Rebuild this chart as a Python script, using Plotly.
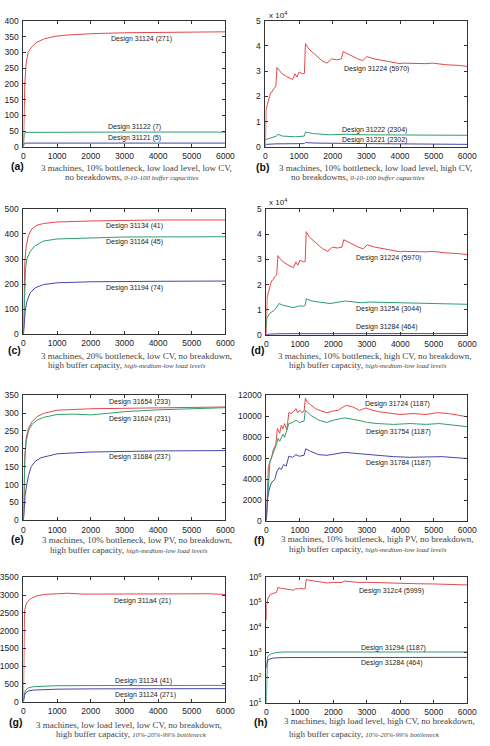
import plotly.graph_objects as go

W, H = 490, 746
RED, GREEN, BLUE = "#e5484b", "#2f9f6c", "#4646aa"

# ---------------- data ----------------
# (a)
A_RED_X = [0, 15, 40, 80, 140, 250, 400, 600, 900, 1200, 2000, 3000, 4000, 5000, 6000]
A_RED_Y = [0, 130, 200, 265, 300, 318, 332, 342, 350, 354, 359, 362, 363, 364, 365]
A_GRN_X = [0, 20, 60, 1000, 3000, 6000]
A_GRN_Y = [5, 40, 46, 47, 47, 47]
A_BLU_X = [0, 20, 60, 1000, 3000, 6000]
A_BLU_Y = [2, 10, 12, 12, 12, 12]

# (b) and (d) shared red design 31224
B_RED_X = [0, 20, 58, 87, 116, 155, 203, 251, 309, 345, 400, 500, 620, 720, 810, 880, 940, 1005, 1100, 1160,
           1190, 1290, 1400, 1490, 1600, 1680, 1830, 1900, 1970, 2115, 2260, 2310, 2450, 2600, 2745, 2890, 3015,
           3230, 3520, 3810, 4000, 4100, 4480, 4770, 4970, 5350, 5740, 6000]
B_RED_Y = [0, 14700, 16700, 18000, 20000, 21500, 21900, 23200, 23800, 31500, 30500, 29000, 28000, 27200, 26700,
           29000, 27700, 29700, 29000, 29200, 41000, 38800, 37500, 36200, 35000, 34200, 33200, 34200, 34900, 34500,
           34900, 37800, 36800, 35800, 34900, 34200, 35800, 34900, 34200, 33600, 33000, 33200, 33000, 33000, 33200,
           32600, 32300, 31900]
B_GRN_X = [0, 20, 100, 330, 375, 500, 900, 1160, 1190, 1400, 1900, 2400, 2900, 4000, 5000, 6000]
B_GRN_Y = [2600, 3000, 3300, 4300, 5000, 4300, 4000, 4300, 5900, 5300, 4800, 5000, 4800, 4700, 4700, 4600]
B_BLU_X = [0, 30, 300, 1160, 1190, 1500, 3000, 5000, 6000]
B_BLU_Y = [500, 1000, 1200, 1300, 1700, 1500, 1300, 1200, 1000]

# (c)
C_RED_X = [0, 15, 40, 80, 150, 250, 400, 600, 1000, 2000, 3000, 4000, 6000]
C_RED_Y = [0, 180, 290, 350, 395, 420, 435, 442, 448, 452, 455, 456, 456]
C_GRN_X = [0, 30, 60, 100, 200, 330, 600, 1000, 2000, 3000, 6000]
C_GRN_Y = [0, 200, 260, 300, 330, 352, 372, 380, 385, 388, 389]
C_BLU_X = [0, 20, 50, 100, 200, 350, 600, 1000, 2000, 4000, 6000]
C_BLU_Y = [0, 50, 90, 130, 165, 185, 198, 205, 209, 211, 212]

# (d)
D_GRN_X = [0, 10, 100, 240, 330, 375, 500, 800, 1000, 1100, 1160, 1190, 1350, 1900, 2350, 2850, 3050, 4000, 5000, 6000]
D_GRN_Y = [3000, 6600, 8600, 9900, 11500, 12500, 11800, 10900, 11600, 11400, 11800, 14400, 13500, 12500, 13500,
           12800, 13100, 12800, 12500, 12200]
D_BLU_X = [0, 100, 500, 6000]
D_BLU_Y = [0, 400, 550, 600]

# (e)
E_RED_X = [0, 15, 40, 80, 150, 250, 400, 600, 1000, 2000, 3000, 4000, 5000, 6000]
E_RED_Y = [0, 100, 180, 230, 258, 275, 290, 299, 308, 312, 313, 315, 316, 317]
E_GRN_X = [0, 15, 40, 80, 150, 250, 400, 600, 1000, 1500, 2000, 2500, 3000, 4000, 5000, 6000]
E_GRN_Y = [0, 90, 170, 220, 250, 268, 280, 288, 296, 297, 295, 299, 304, 309, 312, 315]
E_BLU_X = [0, 20, 50, 90, 150, 230, 350, 520, 800, 1000, 2000, 3000, 4000, 6000]
E_BLU_Y = [0, 40, 70, 96, 125, 150, 165, 175, 182, 186, 191, 193, 194, 195]

# (f)
F_RED_X = [0, 29, 58, 107, 155, 204, 282, 330, 398, 447, 495, 544, 612, 670, 738, 806, 883, 932, 1000, 1058,
           1126, 1165, 1223, 1320, 1466, 1660, 1806, 1951, 2146, 2291, 2388, 2583, 2777, 2970, 3165, 3408, 3699,
           3990, 4379, 4767, 5107, 5447, 5738, 6000]
F_RED_Y = [90, 2900, 5100, 5700, 6000, 6800, 7300, 8840, 8375, 9150, 8780, 9300, 8690, 10340, 10250, 10400,
           10720, 10340, 10560, 10340, 10470, 11720, 11340, 11090, 10720, 10470, 10340, 10470, 10560, 10875, 11030,
           10875, 10560, 10780, 10560, 10400, 10250, 10160, 10250, 10160, 10340, 10250, 10090, 9940]
F_GRN_X = [0, 29, 107, 301, 349, 398, 495, 544, 592, 670, 786, 883, 980, 1126, 1165, 1320, 1563, 1806, 2000,
           2340, 2730, 3020, 3310, 3800, 4290, 4770, 5160, 5550, 6000]
F_GRN_Y = [90, 1970, 5700, 7300, 7900, 7600, 8280, 7980, 8480, 9300, 9400, 9620, 9400, 9530, 10560, 10090, 9620,
           9400, 9620, 9840, 9620, 9400, 9300, 9220, 9300, 9220, 9300, 9150, 9000]
F_BLU_X = [0, 29, 87, 155, 252, 320, 378, 447, 515, 592, 670, 786, 883, 980, 1126, 1175, 1320, 1563, 1806, 2048,
           2340, 2631, 3020, 3408, 3796, 4282, 4767, 5252, 5738, 6000]
F_BLU_Y = [90, 2125, 3060, 3690, 4000, 4780, 5090, 4940, 5400, 5250, 6190, 6090, 6340, 6190, 6280, 6900, 6650,
           6340, 6280, 6400, 6560, 6470, 6340, 6250, 6150, 6090, 6150, 6150, 6030, 5970]

# (g)
G_RED_X = [0, 8, 30, 80, 150, 250, 400, 600, 1000, 1300, 1800, 2500, 2800, 3500, 4000, 4500, 5000, 5500, 6000]
G_RED_Y = [0, 2300, 2550, 2750, 2850, 2920, 2980, 3020, 3045, 3055, 3030, 3035, 3025, 3030, 3030, 3050, 3045, 3040, 3020]
G_GRN_X = [0, 30, 80, 150, 300, 600, 1000, 2000, 4000, 6000]
G_GRN_Y = [0, 250, 340, 390, 420, 440, 448, 452, 456, 456]
G_BLU_X = [0, 30, 80, 150, 300, 600, 1000, 2000, 6000]
G_BLU_Y = [0, 180, 260, 300, 325, 342, 350, 359, 365]

# (h) log scale
H_RED_X = [0, 10, 50, 106, 200, 300, 345, 420, 550, 680, 810, 880, 940, 1000, 1100, 1160, 1190, 1300, 1500, 1700,
           1830, 1970, 2260, 2320, 2450, 2750, 3020, 3500, 4000, 4500, 5000, 5500, 6000]
H_RED_Y = [2e4, 9e4, 1.5e5, 2.0e5, 2.3e5, 2.5e5, 4.0e5, 3.7e5, 3.5e5, 3.3e5, 3.1e5, 3.6e5, 3.4e5, 3.7e5, 3.5e5,
           3.7e5, 8.3e5, 7.6e5, 6.8e5, 6.2e5, 6.0e5, 6.3e5, 6.3e5, 7.2e5, 6.8e5, 6.3e5, 6.4e5, 6.0e5, 5.8e5, 5.6e5,
           5.5e5, 5.3e5, 5.0e5]
H_GRN_X = [0, 10, 30, 60, 150, 300, 500, 1000, 6000]
H_GRN_Y = [10, 200, 600, 750, 900, 1000, 1050, 1050, 1050]
H_BLU_X = [0, 20, 60, 200, 500, 6000]
H_BLU_Y = [250, 420, 530, 600, 630, 640]

X_TICKS = [0, 1000, 2000, 3000, 4000, 5000, 6000]
F_TICKS = [0, 2000, 4000, 6000, 8000, 10000, 12000]

# ---------------- layout helpers ----------------
def dom_x(l, r):
    return [l / W, r / W]

def dom_y(t, b):
    return [1 - b / H, 1 - t / H]

fig = go.Figure()

panels = [
    ("", (22, 229), (15, 143)),
    ("2", (270, 477), (15, 143)),
    ("3", (22, 229), (206, 333)),
    ("4", (271, 477), (206, 334)),
    ("5", (22, 229), (395, 522)),
    ("6", (271, 477), (395, 523)),
    ("7", (22, 229), (580, 706)),
    ("8", (271, 477), (580, 707)),
]

series = [
    ("", [(A_RED_X, A_RED_Y, RED), (A_GRN_X, A_GRN_Y, GREEN), (A_BLU_X, A_BLU_Y, BLUE)]),
    ("2", [(B_RED_X, B_RED_Y, RED), (B_GRN_X, B_GRN_Y, GREEN), (B_BLU_X, B_BLU_Y, BLUE)]),
    ("3", [(C_RED_X, C_RED_Y, RED), (C_GRN_X, C_GRN_Y, GREEN), (C_BLU_X, C_BLU_Y, BLUE)]),
    ("4", [(B_RED_X, B_RED_Y, RED), (D_GRN_X, D_GRN_Y, GREEN), (D_BLU_X, D_BLU_Y, BLUE)]),
    ("5", [(E_RED_X, E_RED_Y, RED), (E_GRN_X, E_GRN_Y, GREEN), (E_BLU_X, E_BLU_Y, BLUE)]),
    ("6", [(F_RED_X, F_RED_Y, RED), (F_GRN_X, F_GRN_Y, GREEN), (F_BLU_X, F_BLU_Y, BLUE)]),
    ("7", [(G_RED_X, G_RED_Y, RED), (G_GRN_X, G_GRN_Y, GREEN), (G_BLU_X, G_BLU_Y, BLUE)]),
    ("8", [(H_RED_X, H_RED_Y, RED), (H_GRN_X, H_GRN_Y, GREEN), (H_BLU_X, H_BLU_Y, BLUE)]),
]

for key, lst in series:
    for xs, ys, c in lst:
        fig.add_trace(go.Scatter(x=xs, y=ys, mode="lines", line=dict(color=c, width=1),
                                 xaxis="x" + key, yaxis="y" + key, showlegend=False, hoverinfo="skip"))

TICKFONT = dict(family="Liberation Sans, Arial, sans-serif", size=8.5, color="#222")
axcommon = dict(showgrid=False, zeroline=False, showline=True, linecolor="#333", linewidth=1,
                mirror="ticks", ticks="inside", ticklen=3, tickwidth=1, tickcolor="#333",
                tickfont=TICKFONT, fixedrange=True)

yspec = {
    "": dict(range=[0, 400], tickvals=list(range(0, 401, 50))),
    "2": dict(range=[0, 50000], tickvals=[0, 10000, 20000, 30000, 40000, 50000],
              ticktext=["0", "1", "2", "3", "4", "5"]),
    "3": dict(range=[0, 500], tickvals=list(range(0, 501, 100))),
    "4": dict(range=[0, 50000], tickvals=[0, 10000, 20000, 30000, 40000, 50000],
              ticktext=["0", "1", "2", "3", "4", "5"]),
    "5": dict(range=[0, 350], tickvals=list(range(0, 351, 50))),
    "6": dict(range=[0, 12000], tickvals=F_TICKS, ticktext=[str(v) for v in F_TICKS]),
    "7": dict(range=[0, 3500], tickvals=list(range(0, 3501, 500))),
    "8": dict(type="log", range=[1, 6], tickvals=[10, 100, 1000, 1e4, 1e5, 1e6],
              ticktext=["10<sup>1</sup>", "10<sup>2</sup>", "10<sup>3</sup>", "10<sup>4</sup>",
                        "10<sup>5</sup>", "10<sup>6</sup>"]),
}

for key, (xl, xr), (yt, yb) in panels:
    xa = dict(axcommon, domain=dom_x(xl, xr), range=[0, 6000], tickvals=X_TICKS,
              ticktext=[str(v) for v in X_TICKS], anchor="y" + key, ticklabelstandoff=1)
    ya = dict(axcommon, domain=dom_y(yt, yb), anchor="x" + key, ticklabelstandoff=2, **yspec[key])
    fig.layout["xaxis" + key] = xa
    fig.layout["yaxis" + key] = ya

# ---------------- annotations ----------------
LBLFONT = dict(family="Liberation Sans, Arial, sans-serif", size=7, color="#222")
labels = [
    ("", 3500, 341, "Design 31124 (271)"),
    ("", 3300, 62, "Design 31122 (7)"),
    ("", 3300, 28, "Design 31121 (5)"),
    ("2", 3300, 30860, "Design 31224 (5970)"),
    ("2", 3250, 6640, "Design 31222 (2304)"),
    ("2", 3250, 2730, "Design 31221 (2302)"),
    ("3", 3300, 433, "Design 31134 (41)"),
    ("3", 3300, 366, "Design 31164 (45)"),
    ("3", 3300, 185, "Design 31194 (74)"),
    ("4", 3640, 30470, "Design 31224 (5970)"),
    ("4", 3640, 10160, "Design 31254 (3044)"),
    ("4", 3600, 3125, "Design 31284 (464)"),
    ("5", 3450, 331, "Design 31654 (233)"),
    ("5", 3450, 284, "Design 31624 (231)"),
    ("5", 3450, 176, "Design 31684 (237)"),
    ("6", 3930, 11156, "Design 31724 (1187)"),
    ("6", 3960, 8530, "Design 31754 (1187)"),
    ("6", 3960, 5530, "Design 31784 (1187)"),
    ("7", 3536, 2833, "Design 311a4 (21)"),
    ("7", 3560, 583, "Design 31134 (41)"),
    ("7", 3620, 194, "Design 31124 (271)"),
    ("8", 3730, 5.45, "Design 312c4 (5999)"),
    ("8", 3810, 3.20, "Design 31294 (1187)"),
    ("8", 3760, 2.57, "Design 31284 (464)"),
]
for key, x, y, t in labels:
    fig.add_annotation(x=x, y=y, xref="x" + key, yref="y" + key, text=t, showarrow=False,
                       font=LBLFONT, xanchor="center", yanchor="middle")

# x 10^4 multipliers
for py in (9, 199):
    fig.add_annotation(x=272 / W, y=1 - py / H, xref="paper", yref="paper", text="x 10<sup>4</sup>",
                       showarrow=False, font=dict(family="Liberation Sans, Arial, sans-serif", size=8, color="#222"),
                       xanchor="left", yanchor="middle")

CAPFONT = dict(family="Liberation Serif, Times New Roman, serif", size=9, color="#444")
PLABFONT = dict(family="Liberation Sans, Arial, sans-serif", size=10.5, color="#111")

def it(s):
    return "<i><span style='font-size:7px'>" + s + "</span></i>"

captions = [
    ("(a)", (16, 162), "3 machines, 10% bottleneck, low load level, low CV,", (138, 164),
     "no breakdowns, " + it("0-10-100 buffer capacities"), (133, 174)),
    ("(b)", (267, 163), "3 machines, 10% bottleneck, low load level, high CV,", (383, 164),
     "no breakdowns, " + it("0-10-100 buffer capacities"), (365, 174)),
    ("(c)", (13, 349), "3 machines, 20% bottleneck, low CV, no breakdown,", (138, 355),
     "high buffer capacity, " + it("high-medium-low load levels"), (128, 364)),
    ("(d)", (262, 349), "3 machines, 10% bottleneck, high CV, no breakdown,", (382, 355),
     "high buffer capacity, " + it("high-medium-low load levels"), (375, 364)),
    ("(e)", (16, 541), "3 machines, 10% bottleneck, low PV, no breakdown,", (138, 542),
     "high buffer capacity, " + it("high-medium-low load levels"), (130, 552)),
    ("(f)", (264, 542), "3 machines, 10% bottleneck, high PV, no breakdown,", (385, 541),
     "high buffer capacity, " + it("high-medium-low load levels"), (375, 551)),
    ("(g)", (14, 727), "3 machines, low load level, low CV, no breakdown,", (130, 730),
     "high buffer capacity, " + it("10%-20%-99% bottleneck"), (133, 739)),
    ("(h)", (265, 727), "3 machines, high load level, high CV, no breakdown,", (387, 726),
     "high buffer capacity, " + it("10%-20%-99% bottleneck"), (372, 739)),
]
for lab, (lx, ly), l1, (x1, y1), l2, (x2, y2) in captions:
    fig.add_annotation(x=lx / W, y=1 - ly / H, xref="paper", yref="paper", text="<b>" + lab + "</b>",
                       showarrow=False, font=PLABFONT, xanchor="center", yanchor="middle")
    fig.add_annotation(x=x1 / W, y=1 - y1 / H, xref="paper", yref="paper", text=l1,
                       showarrow=False, font=CAPFONT, xanchor="center", yanchor="middle")
    fig.add_annotation(x=x2 / W, y=1 - y2 / H, xref="paper", yref="paper", text=l2,
                       showarrow=False, font=CAPFONT, xanchor="center", yanchor="middle")

fig.update_layout(width=W, height=H, margin=dict(l=0, r=0, t=0, b=0),
                  paper_bgcolor="white", plot_bgcolor="white", showlegend=False)

fig.write_html("out.html", config={"displayModeBar": False})
